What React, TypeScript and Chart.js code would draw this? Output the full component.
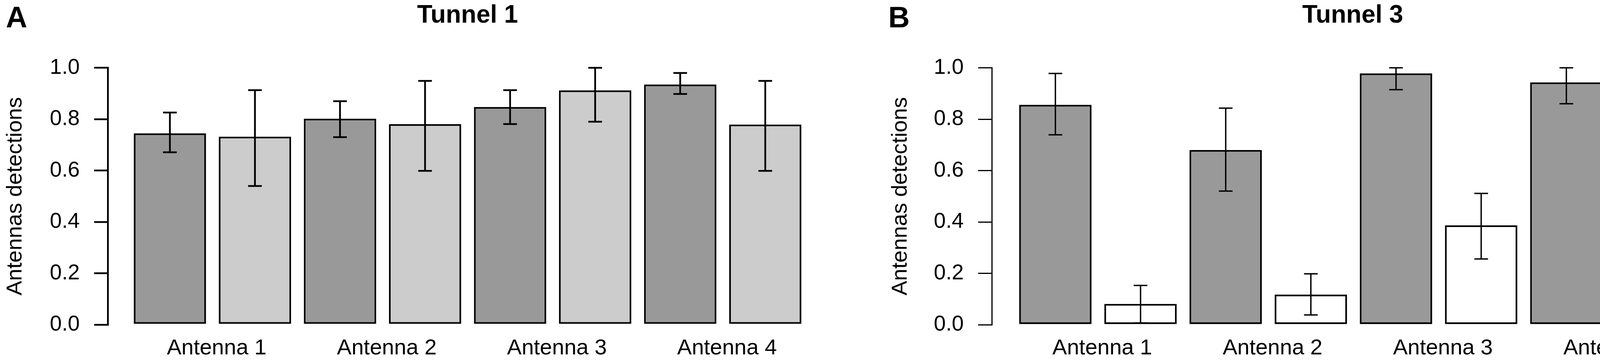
import React, { useEffect, useRef } from "react";
import { Chart, registerables } from "chart.js";

Chart.register(...registerables);

const FONT = "'Liberation Sans', Arial, Helvetica, sans-serif";

const antennas = ["Antenna 1", "Antenna 2", "Antenna 3", "Antenna 4"];
const yTickValues = [0, 0.2, 0.4, 0.6, 0.8, 1.0];

// Tunnel 1: dark grey and light grey bars (mean, lower and upper limit)
const tunnel1Dark = [0.745, 0.802, 0.847, 0.935];
const tunnel1DarkLow = [0.671, 0.73, 0.781, 0.898];
const tunnel1DarkHigh = [0.826, 0.87, 0.913, 0.98];
const tunnel1Light = [0.732, 0.781, 0.912, 0.779];
const tunnel1LightLow = [0.54, 0.599, 0.79, 0.599];
const tunnel1LightHigh = [0.913, 0.949, 1.0, 0.949];

// Tunnel 3: dark grey and white bars
const tunnel3Dark = [0.856, 0.68, 0.978, 0.943];
const tunnel3DarkLow = [0.739, 0.52, 0.915, 0.86];
const tunnel3DarkHigh = [0.978, 0.843, 1.0, 1.0];
const tunnel3Open = [0.081, 0.117, 0.387, 0.367];
const tunnel3OpenLow = [0.007, 0.038, 0.256, 0.234];
const tunnel3OpenHigh = [0.153, 0.198, 0.511, 0.49];

type Series = { values: number[]; low: number[]; high: number[]; fill: string };

type Panel = {
  letter: string;
  title: string;
  series: Series[];
  left: number;
  width: number;
  yWidth: number;
  yTitlePad: number;
  xMin: number;
  letterX: number;
  lineWidth: number;
  axisWidth: number;
};

// barplot layout like R: bars of width 1 with 0.2 space between them
const barX = (group: number, s: number) => 0.7 + 1.2 * (2 * group + s);
const groupX = (group: number) => 1.3 + 2.4 * group;

const panels: Panel[] = [
  {
    letter: "A",
    title: "Tunnel 1",
    series: [
      { values: tunnel1Dark, low: tunnel1DarkLow, high: tunnel1DarkHigh, fill: "#999999" },
      { values: tunnel1Light, low: tunnel1LightLow, high: tunnel1LightHigh, fill: "#cccccc" },
    ],
    left: 0,
    width: 2164,
    yWidth: 276,
    yTitlePad: 6,
    xMin: -0.176,
    letterX: 15,
    lineWidth: 4.5,
    axisWidth: 4.5,
  },
  {
    letter: "B",
    title: "Tunnel 3",
    series: [
      { values: tunnel3Dark, low: tunnel3DarkLow, high: tunnel3DarkHigh, fill: "#999999" },
      { values: tunnel3Open, low: tunnel3OpenLow, high: tunnel3OpenHigh, fill: "#ffffff" },
    ],
    left: 2164,
    width: 2269,
    yWidth: 375,
    yTitlePad: 108,
    xMin: -0.196,
    letterX: 110,
    lineWidth: 3.5,
    axisWidth: 3,
  },
];

const errorBars = {
  id: "errorBars",
  afterDatasetsDraw(chart: any, _args: any, opts: any) {
    const { ctx } = chart;
    const y = chart.scales.y;
    ctx.save();
    ctx.strokeStyle = "#000";
    ctx.lineWidth = opts.lineWidth;
    chart.data.datasets.forEach((_ds: any, d: number) => {
      const meta = chart.getDatasetMeta(d);
      const { low, high } = opts.series[d];
      meta.data.forEach((bar: any, i: number) => {
        const x = bar.x;
        const y1 = y.getPixelForValue(low[i]);
        const y2 = y.getPixelForValue(high[i]);
        const cap = opts.cap;
        ctx.beginPath();
        ctx.moveTo(x, y1);
        ctx.lineTo(x, y2);
        ctx.moveTo(x - cap, y1);
        ctx.lineTo(x + cap, y1);
        ctx.moveTo(x - cap, y2);
        ctx.lineTo(x + cap, y2);
        ctx.stroke();
      });
    });
    ctx.restore();
  },
};

const panelLetter = {
  id: "panelLetter",
  afterDraw(chart: any, _args: any, opts: any) {
    const { ctx } = chart;
    ctx.save();
    ctx.font = `bold 76px ${FONT}`;
    ctx.fillStyle = "#000";
    ctx.textAlign = "left";
    ctx.textBaseline = "alphabetic";
    ctx.fillText(opts.text, opts.x, opts.y);
    ctx.restore();
  },
};

function buildConfig(p: Panel): any {
  return {
    type: "bar",
    data: {
      datasets: p.series.map((s, si) => ({
        data: antennas.map((_, g) => ({ x: barX(g, si), y: s.values[g] })),
        backgroundColor: s.fill,
        borderColor: "#000",
        borderWidth: 4.5,
        borderSkipped: false,
        barPercentage: 0.85,
        categoryPercentage: 1,
      })),
    },
    options: {
      animation: false,
      responsive: true,
      maintainAspectRatio: false,
      layout: { padding: { left: 0, right: 46, top: 0, bottom: 0 } },
      plugins: {
        legend: { display: false },
        tooltip: { enabled: false },
        title: {
          display: true,
          text: p.title,
          fullSize: false,
          color: "#000",
          font: { family: FONT, size: 64, weight: "bold", lineHeight: 1 },
          padding: { top: 8, bottom: 101.5 },
        },
        errorBars: { series: p.series, lineWidth: p.lineWidth, cap: 17.5 },
        panelLetter: { text: p.letter, x: p.letterX, y: 70 },
      },
      scales: {
        x: {
          type: "linear",
          min: p.xMin,
          max: 9.976,
          offset: false,
          bounds: "data",
          stacked: true,
          afterBuildTicks: (scale: any) => {
            scale.ticks = antennas.map((_, g) => ({ value: groupX(g) }));
          },
          afterFit: (scale: any) => {
            scale.height = 98;
          },
          grid: { display: false, drawTicks: false, offset: false },
          border: { display: false },
          ticks: {
            autoSkip: false,
            maxRotation: 0,
            padding: 27,
            labelOffset: 11,
            color: "#000",
            font: { family: FONT, size: 56 },
            callback: (_v: any, i: number) => antennas[i],
          },
        },
        y: {
          min: 0,
          max: 1,
          afterBuildTicks: (scale: any) => {
            scale.ticks = yTickValues.map((v) => ({ value: v }));
          },
          afterFit: (scale: any) => {
            scale.width = p.yWidth;
          },
          grid: {
            drawOnChartArea: false,
            drawTicks: true,
            tickLength: 35,
            color: "#000",
            lineWidth: p.axisWidth,
          },
          border: { display: true, color: "#000", width: p.axisWidth },
          ticks: {
            padding: 37,
            color: "#000",
            font: { family: FONT, size: 55 },
            callback: (v: any) => Number(v).toFixed(1),
          },
          title: {
            display: true,
            text: "Antennas detections",
            color: "#000",
            font: { family: FONT, size: 56 },
            padding: { top: p.yTitlePad, bottom: 0 },
          },
        },
      },
    },
    plugins: [errorBars, panelLetter],
  };
}

function PanelChart({ panel }: { panel: Panel }) {
  const canvasRef = useRef<HTMLCanvasElement>(null);

  useEffect(() => {
    if (!canvasRef.current) return;
    const chart = new Chart(canvasRef.current, buildConfig(panel));
    return () => chart.destroy();
  }, [panel]);

  return (
    <div style={{ position: "absolute", left: panel.left, top: 0, width: panel.width, height: 929 }}>
      <canvas ref={canvasRef} />
    </div>
  );
}

export default function App() {
  return (
    <div
      style={{
        position: "fixed",
        left: 0,
        top: 0,
        width: 4328,
        height: 929,
        overflow: "hidden",
        background: "#fff",
      }}
    >
      {panels.map((p) => (
        <PanelChart key={p.letter} panel={p} />
      ))}
    </div>
  );
}
